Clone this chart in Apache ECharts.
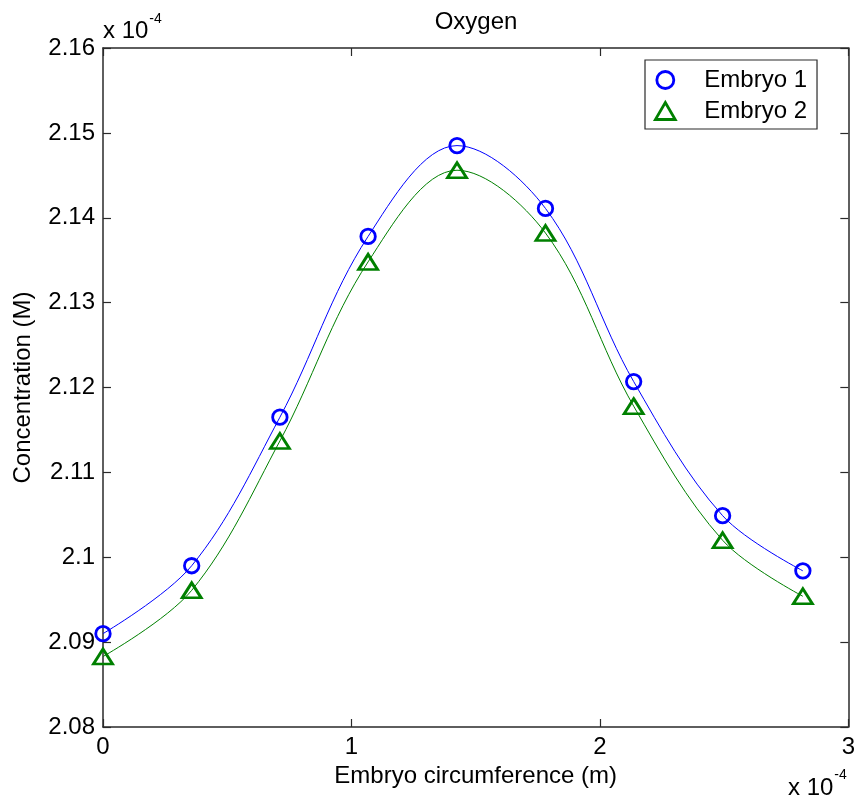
<!DOCTYPE html>
<html>
<head>
<meta charset="utf-8">
<script src="https://cdn.jsdelivr.net/npm/echarts@6/dist/echarts.min.js"></script>
<style>
  html, body { margin: 0; padding: 0; background: #ffffff; }
  #chart { width: 858px; height: 806px; }
</style>
</head>
<body>
<div id="chart"></div>
<script>
// Sample positions along the embryo circumference (x 10^-4 m)
const circumference = [0, 0.357, 0.712, 1.067, 1.425, 1.781, 2.136, 2.494, 2.817];
// Oxygen concentration at each position (x 10^-4 M)
const embryo1 = [2.0910, 2.0990, 2.1165, 2.1378, 2.1485, 2.1411, 2.1207, 2.1049, 2.0984];
const embryo2 = [2.0883, 2.0961, 2.1137, 2.1348, 2.1456, 2.1382, 2.1178, 2.1020, 2.0954];
const seriesNames = ['Embryo 1', 'Embryo 2'];
// Axis ticks
const xTicks = [0, 1, 2, 3];
const yTicks = [2.08, 2.09, 2.10, 2.11, 2.12, 2.13, 2.14, 2.15, 2.16];

const FONT = '"Liberation Sans", Arial, Helvetica, sans-serif';
const AXIS_COLOR = '#2a2a2a';
const BLUE = '#0000ff';
const GREEN = '#008000';

const pairs = (xs, ys) => xs.map((x, i) => [x, ys[i]]);

function measure(text, size) {
  const ctx = document.createElement('canvas').getContext('2d');
  ctx.font = size + 'px ' + FONT;
  return ctx.measureText(text).width;
}

const xStep = xTicks[1] - xTicks[0];
const yStep = +(yTicks[1] - yTicks[0]).toFixed(4);

const baseAxis = {
  axisLine: { show: true, onZero: false, lineStyle: { color: AXIS_COLOR, width: 1.5 } },
  axisTick: { show: true, inside: true, length: 8, lineStyle: { color: AXIS_COLOR, width: 1.2 } },
  splitLine: { show: false }
};

const xAxisMain = Object.assign({}, baseAxis, {
  type: 'value', position: 'bottom',
  min: xTicks[0], max: xTicks[xTicks.length - 1], interval: xStep,
  name: 'Embryo circumference (m)', nameLocation: 'middle', nameGap: 33,
  nameTextStyle: { fontFamily: FONT, fontSize: 24, color: '#000' },
  axisLabel: { margin: 8, fontFamily: FONT, fontSize: 24, color: '#000',
    formatter: v => String(+v.toFixed(2)) }
});
const xAxisTop = Object.assign({}, baseAxis, {
  type: 'value', position: 'top',
  min: xTicks[0], max: xTicks[xTicks.length - 1], interval: xStep,
  axisLabel: { show: false }
});
const yAxisMain = Object.assign({}, baseAxis, {
  type: 'value', position: 'left',
  min: yTicks[0], max: yTicks[yTicks.length - 1], interval: yStep,
  name: 'Concentration (M)', nameLocation: 'middle', nameGap: 68,
  nameTextStyle: { fontFamily: FONT, fontSize: 24, color: '#000' },
  axisLabel: { margin: 8, fontFamily: FONT, fontSize: 24, color: '#000',
    formatter: v => String(+v.toFixed(2)) }
});
const yAxisRight = Object.assign({}, baseAxis, {
  type: 'value', position: 'right',
  min: yTicks[0], max: yTicks[yTicks.length - 1], interval: yStep,
  axisLabel: { show: false }
});

const colors = [BLUE, GREEN];
const values = [embryo1, embryo2];
const markerSymbols = ['circle', 'triangle'];
const markerSizes = [14.5, [19, 15]];

const series = [];
// Smooth interpolating curves through the measurements
values.forEach((ys, i) => {
  series.push({
    name: seriesNames[i] + ' curve',
    type: 'line',
    data: pairs(circumference, ys),
    smooth: 0.35,
    showSymbol: false,
    symbol: 'none',
    silent: true,
    lineStyle: { color: colors[i], width: 1, opacity: 1 },
    z: 2
  });
});
// Hollow markers at the measured points
values.forEach((ys, i) => {
  series.push({
    name: seriesNames[i],
    type: 'scatter',
    data: pairs(circumference, ys),
    symbol: markerSymbols[i],
    symbolSize: markerSizes[i],
    itemStyle: { color: 'rgba(0,0,0,0)', borderColor: colors[i], borderWidth: 2.8, opacity: 1 },
    z: 3
  });
});

const expW = measure('x 10', 24);

const chart = echarts.init(document.getElementById('chart'), null, { renderer: 'canvas' });
chart.setOption({
  animation: false,
  backgroundColor: '#ffffff',
  title: {
    text: 'Oxygen',
    left: 476, top: 10, padding: 0, textAlign: 'center',
    textStyle: { fontFamily: FONT, fontSize: 24, fontWeight: 'normal', color: '#000' }
  },
  grid: { left: 103, right: 9, top: 48, bottom: 79, containLabel: false },
  xAxis: [xAxisMain, xAxisTop],
  yAxis: [yAxisMain, yAxisRight],
  legend: {
    orient: 'vertical',
    left: 645, top: 60,
    padding: [8, 10, 6, 9],
    itemWidth: 68, itemHeight: 17, itemGap: 7,
    borderColor: AXIS_COLOR, borderWidth: 1.2,
    backgroundColor: '#ffffff',
    selectedMode: false,
    textStyle: { fontFamily: FONT, fontSize: 24, color: '#000' },
    itemStyle: { borderWidth: 2.8, opacity: 1 },
    data: [
      { name: seriesNames[0], icon: 'circle' },
      { name: seriesNames[1], icon: 'path://M10.5,0L21,18L0,18Z' }
    ]
  },
  graphic: [
    { type: 'text', x: 103, y: 31, style: { text: 'x 10', font: '24px ' + FONT, fill: '#000', verticalAlign: 'middle' } },
    { type: 'text', x: 103 + expW + 1, y: 19, style: { text: '-4', font: '14px ' + FONT, fill: '#000', verticalAlign: 'middle' } },
    { type: 'text', x: 788, y: 788, style: { text: 'x 10', font: '24px ' + FONT, fill: '#000', verticalAlign: 'middle' } },
    { type: 'text', x: 788 + expW + 1, y: 775, style: { text: '-4', font: '14px ' + FONT, fill: '#000', verticalAlign: 'middle' } }
  ],
  series: series
});
</script>
</body>
</html>
